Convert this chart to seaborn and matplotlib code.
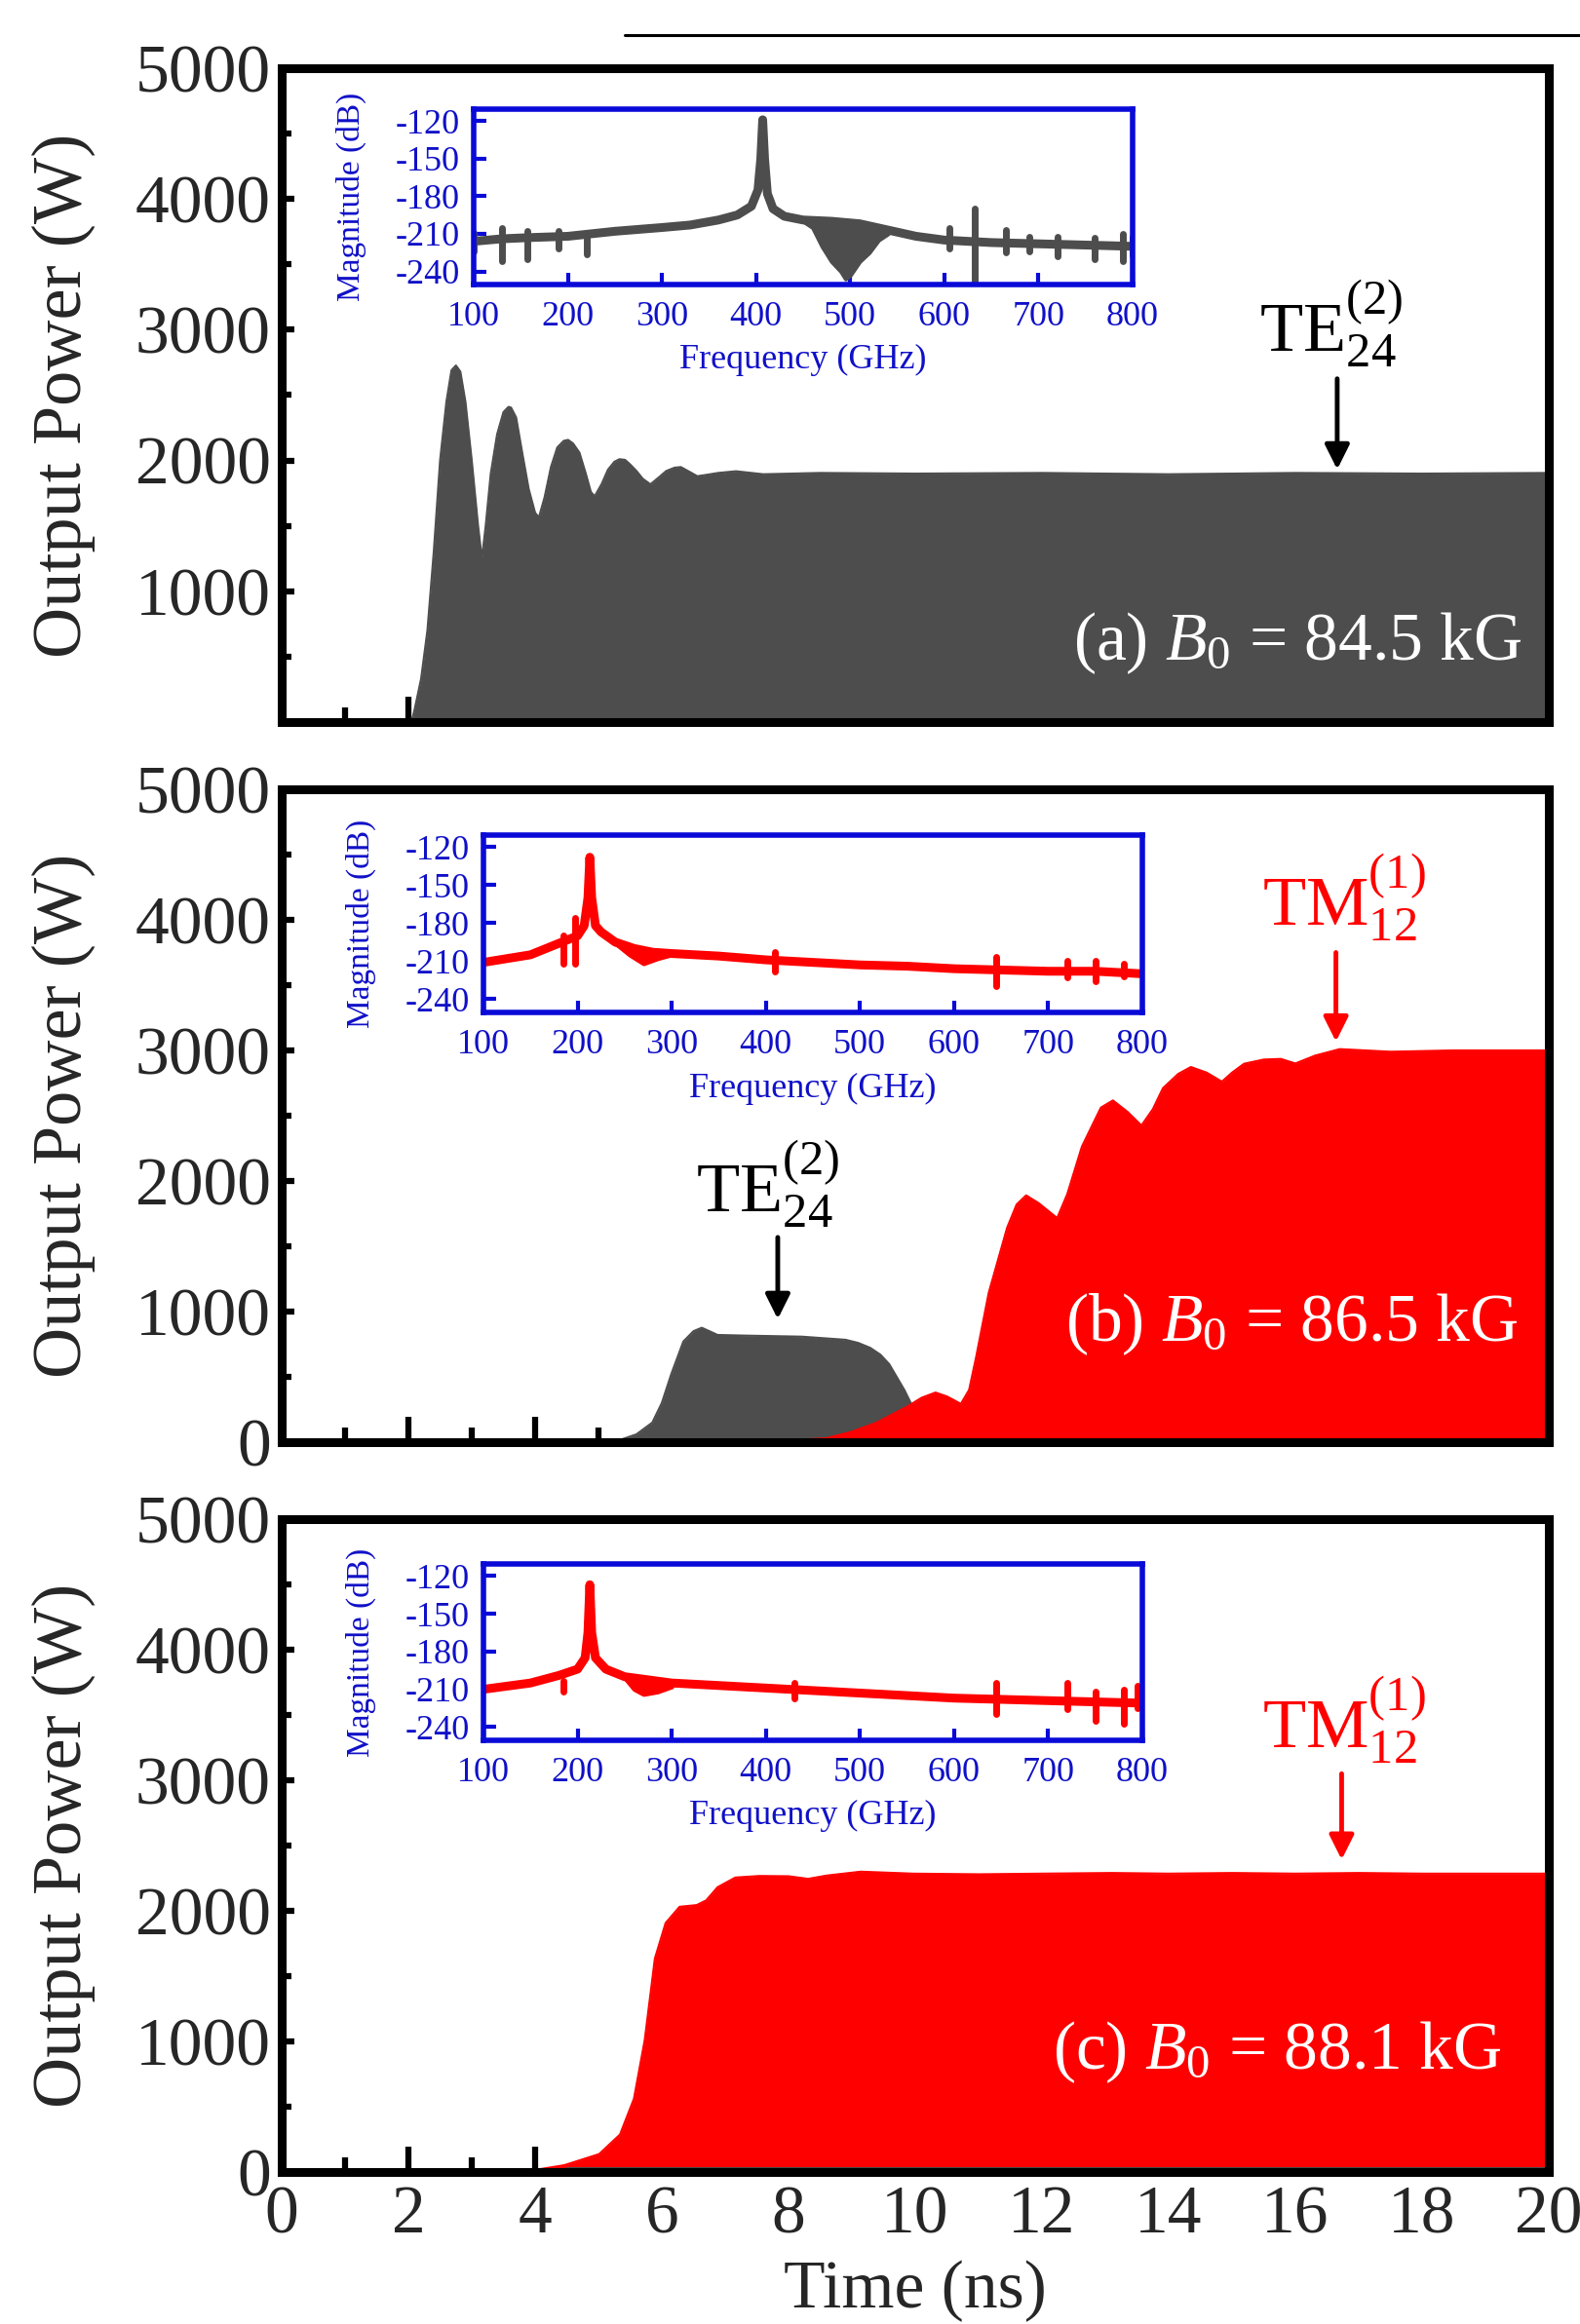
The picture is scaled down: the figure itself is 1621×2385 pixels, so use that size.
import numpy as np
import pandas as pd
import matplotlib
matplotlib.use("Agg")
import matplotlib.pyplot as plt
import seaborn as sns
from matplotlib.ticker import MultipleLocator, FixedLocator
from matplotlib.lines import Line2D

# ---------------- data ----------------
# (a) B0 = 84.5 kG, TE24(2) envelope (ns, W)
a_time = [0.0, 2.0, 2.07, 2.1, 2.2, 2.3, 2.4, 2.5, 2.6, 2.68, 2.75, 2.82, 2.9, 3.0, 3.1, 3.16,
          3.22, 3.3, 3.4, 3.5, 3.58, 3.62, 3.7, 3.8, 3.9, 4.0, 4.06, 4.15, 4.25, 4.35, 4.45, 4.52,
          4.6, 4.7, 4.8, 4.88, 4.94, 5.05, 5.15, 5.25, 5.33, 5.42, 5.5, 5.6, 5.7, 5.82, 5.95, 6.07,
          6.2, 6.3, 6.45, 6.56, 6.7, 6.89, 7.17, 7.6, 8.5, 10.0, 12.0, 14.0, 16.0, 18.0, 20.0]
a_power = [0, 0, 40, 100, 330, 700, 1300, 2000, 2450, 2690, 2727, 2680, 2450, 2000, 1500, 1250,
           1500, 1900, 2200, 2370, 2410, 2405, 2330, 2050, 1780, 1600, 1565, 1720, 1950, 2100, 2150, 2158,
           2130, 2060, 1900, 1760, 1726, 1820, 1930, 1990, 2010, 2005, 1970, 1920, 1860, 1818, 1870, 1920,
           1945, 1950, 1910, 1880, 1890, 1905, 1918, 1895, 1905, 1900, 1905, 1895, 1905, 1900, 1905]

# (b) B0 = 86.5 kG
b_gray_time = [5.0, 5.36, 5.6, 5.85, 6.0, 6.15, 6.34, 6.5, 6.63, 6.75, 6.88, 7.32, 8.21,
               8.9, 9.1, 9.29, 9.45, 9.59, 9.83, 9.98, 10.15, 10.3]
b_gray_power = [0, 20, 60, 150, 300, 522, 771, 850, 876, 850, 821, 816, 808,
                784, 760, 722, 670, 597, 398, 249, 100, 0]
b_red_time = [7.5, 8.6, 9.0, 9.39, 9.88, 10.1, 10.32, 10.5, 10.72, 10.85, 10.96, 11.16, 11.45,
              11.6, 11.75, 11.95, 12.24, 12.4, 12.63, 12.93, 13.12, 13.35, 13.57, 13.75, 13.91,
              14.15, 14.35, 14.6, 14.84, 15.0, 15.19, 15.5, 15.77, 16.0, 16.31, 16.7, 17.5,
              18.5, 20.0]
b_red_power = [0, 30, 80, 150, 274, 340, 380, 350, 293, 400, 649, 1144, 1642,
               1820, 1890, 1830, 1716, 1900, 2263, 2562, 2617, 2530, 2425, 2550, 2711,
               2820, 2873, 2830, 2761, 2830, 2898, 2930, 2935, 2900, 2960, 3010, 2990,
               3000, 3000]

# (c) B0 = 88.1 kG
c_red_time = [3.8, 4.46, 5.01, 5.34, 5.56, 5.73, 5.89, 6.06, 6.28, 6.55, 6.7, 6.88, 7.16,
              7.54, 8.0, 8.31, 8.6, 9.14, 9.96, 11.0, 12.0, 13.1, 14.0, 15.0, 16.0, 17.0,
              18.0, 19.0, 20.0]
c_red_power = [0, 52, 137, 287, 561, 1010, 1634, 1907, 2031, 2044, 2080, 2181, 2255,
               2267, 2265, 2245, 2270, 2300, 2285, 2280, 2285, 2290, 2285, 2290, 2285, 2290,
               2285, 2285, 2285]
c_gray_time = [4.5, 20.0]
c_gray_power = [30, 30]

# insets: spectra (GHz, dB)
sa_freq = [100, 130, 160, 200, 250, 300, 330, 360, 380, 395, 402, 405, 407, 409, 412, 418,
           430, 450, 480, 510, 540, 570, 600, 650, 700, 750, 800]
sa_db = [-216, -214, -213, -212, -208, -205, -203, -199, -195, -188, -175, -150, -119, -150,
         -178, -190, -196, -199, -200, -202, -207, -212, -215, -217, -218, -219, -220]
sa_band_freq = [450, 460, 470, 480, 490, 495, 500, 510, 520, 530, 540]
sa_band_top = [-199, -199, -199, -200, -200, -201, -201, -202, -203, -205, -207]
sa_band_bot = [-200, -205, -220, -232, -240, -246, -243, -232, -225, -215, -210]
sa_spk_f = [100, 130, 157, 190, 220, 605, 632, 665, 690, 720, 760, 790, 800]
sa_spk_hi = [-209, -205, -208, -208, -210, -205, -190, -207, -212, -212, -213, -210, -212]
sa_spk_lo = [-224, -232, -230, -222, -226, -222, -249, -225, -224, -228, -230, -232, -227]

sb_freq = [100, 150, 180, 190, 200, 207, 211, 213, 215, 219, 225, 240, 260, 280, 300, 350,
           400, 450, 500, 550, 600, 650, 700, 750, 800]
sb_db = [-211, -205, -196, -193, -190, -182, -160, -128, -160, -182, -187, -195, -200, -203,
         -204, -206, -209, -211, -213, -214, -216, -217, -218, -218, -220]
sb_band_freq = [240, 255, 270, 285, 300]
sb_band_top = [-195, -199, -202, -203, -204]
sb_band_bot = [-196, -205, -212, -208, -205]
sb_spk_f = [185, 197, 410, 645, 720, 750, 780]
sb_spk_hi = [-190, -176, -203, -207, -210, -210, -212]
sb_spk_lo = [-212, -212, -218, -230, -223, -226, -222]

sc_freq = [100, 150, 180, 200, 208, 211, 213, 215, 219, 230, 250, 300, 350, 400, 450, 500,
           550, 600, 650, 700, 800]
sc_db = [-210, -205, -199, -194, -185, -165, -127, -165, -185, -194, -200, -205, -207, -209,
         -211, -213, -215, -217, -218, -219, -221]
sc_band_freq = [250, 260, 270, 285, 300]
sc_band_top = [-200, -201, -202, -204, -205]
sc_band_bot = [-201, -210, -214, -212, -208]
sc_spk_f = [185, 430, 645, 720, 750, 780, 795]
sc_spk_hi = [-203, -205, -205, -205, -212, -210, -207]
sc_spk_lo = [-212, -217, -230, -226, -235, -237, -225]

# ---------------- style ----------------
sns.set_theme(style="ticks")
plt.rcParams['font.family'] = ['Liberation Serif', 'DejaVu Serif']
plt.rcParams['mathtext.fontset'] = 'custom'
plt.rcParams['mathtext.rm'] = 'Liberation Serif'
plt.rcParams['mathtext.it'] = 'Liberation Serif:italic'
plt.rcParams['mathtext.bf'] = 'Liberation Serif:bold'
plt.rcParams['axes.unicode_minus'] = False

GRAY = '#4d4d4d'
RED = '#ff0000'
BLUE = '#1010c8'
SPINE_BLUE = '#0a0ad8'

W, H = 1621, 2385
fig = plt.figure(figsize=(W / 100, H / 100), dpi=100)


def fr(x0, y0, x1, y1):
    return [x0 / W, 1 - y1 / H, (x1 - x0) / W, (y1 - y0) / H]


main_boxes = [fr(289, 70, 1589, 741), fr(289, 810, 1589, 1480), fr(289, 1559, 1589, 2229)]
inset_boxes = [fr(486, 112, 1162, 292), fr(496, 857, 1172, 1039), fr(496, 1605, 1172, 1786)]

axes = [fig.add_axes(b) for b in main_boxes]


def env(ax, t, p, color, z):
    df = pd.DataFrame({'t': t, 'p': p})
    ax.fill_between(df['t'], 0, df['p'], color=color, lw=0, zorder=z)
    sns.lineplot(data=df, x='t', y='p', ax=ax, color=color, lw=1.5, zorder=z,
                 estimator=None, sort=False)


env(axes[0], a_time, a_power, GRAY, 1)
env(axes[1], b_gray_time, b_gray_power, GRAY, 1)
env(axes[1], b_red_time, b_red_power, RED, 1.2)
env(axes[2], c_red_time, c_red_power, RED, 1)
env(axes[2], c_gray_time, c_gray_power, GRAY, 1.2)

for i, ax in enumerate(axes):
    ax.set_xlim(0, 20)
    ax.set_ylim(0, 5000)
    ax.set_facecolor('white')
    ax.xaxis.set_major_locator(MultipleLocator(2))
    ax.xaxis.set_minor_locator(MultipleLocator(1))
    if i == 0:
        ax.yaxis.set_major_locator(FixedLocator([1000, 2000, 3000, 4000, 5000]))
    else:
        ax.yaxis.set_major_locator(MultipleLocator(1000))
    ax.yaxis.set_minor_locator(MultipleLocator(500))
    ax.tick_params(which='both', direction='in', top=False, right=False, color='black')
    ax.tick_params(axis='x', which='major', length=19, width=4.5, pad=10, labelsize=50)
    ax.tick_params(axis='x', which='minor', length=11, width=4.5)
    ax.tick_params(axis='y', which='major', length=9, width=4.5, pad=8, labelsize=50)
    ax.tick_params(axis='y', which='minor', length=7, width=4.5)
    for s in ax.spines.values():
        s.set_linewidth(6.5)
        s.set_color('black')
        s.set_visible(True)
    if i < 2:
        ax.tick_params(axis='x', labelbottom=False)
    ax.set_xlabel('')
    ax.set_ylabel('Output Power (W)', fontsize=52)
    ax.yaxis.set_label_coords(-0.172, 0.5)
    ax.yaxis.label.set_verticalalignment('center')

fig.text(939 / W, 1 - 2383 / H, 'Time (ns)', ha='center', va='bottom', fontsize=50)

# panel labels
axes[0].text(19.58, 477, r'(a) $B_0$ = 84.5 kG', color='white', fontsize=50, ha='right', va='baseline')
axes[1].text(19.51, 773, r'(b) $B_0$ = 86.5 kG', color='white', fontsize=50, ha='right', va='baseline')
axes[2].text(19.25, 790, r'(c) $B_0$ = 88.1 kG', color='white', fontsize=50, ha='right', va='baseline')

# mode labels & arrows
TE = r'$\mathregular{TE}_{24}^{(2)}$'
TM = r'$\mathregular{TM}_{12}^{(1)}$'


def mode(ax, label, color, tx, ty, x, y0, y1):
    ax.text(tx, ty, label, color=color, fontsize=52, ha='center', va='bottom')
    ax.annotate('', xy=(x, y1), xytext=(x, y0),
                arrowprops=dict(arrowstyle='-|>', color=color, lw=3.5, mutation_scale=38,
                                shrinkA=0, shrinkB=0))


mode(axes[0], TE, 'black', 16.56, 2700, 16.66, 2625, 1932)
mode(axes[1], TM, RED, 16.76, 3820, 16.64, 3750, 3068)
mode(axes[1], TE, 'black', 7.67, 1630, 7.83, 1568, 943)
mode(axes[2], TM, RED, 16.76, 3110, 16.73, 3050, 2392)

# insets
spectra = [
    (sa_freq, sa_db, sa_band_freq, sa_band_top, sa_band_bot, sa_spk_f, sa_spk_hi, sa_spk_lo, GRAY),
    (sb_freq, sb_db, sb_band_freq, sb_band_top, sb_band_bot, sb_spk_f, sb_spk_hi, sb_spk_lo, RED),
    (sc_freq, sc_db, sc_band_freq, sc_band_top, sc_band_bot, sc_spk_f, sc_spk_hi, sc_spk_lo, RED),
]
for box, (f, db, bf, bt, bb, sf, sh, sl, col) in zip(inset_boxes, spectra):
    ax = fig.add_axes(box)
    ax.set_facecolor('white')
    df = pd.DataFrame({'f': f, 'db': db})
    sns.lineplot(data=df, x='f', y='db', ax=ax, color=col, lw=6.5, estimator=None, sort=False,
                 solid_capstyle='round', solid_joinstyle='round', clip_on=True)
    ax.fill_between(bf, bb, bt, color=col, lw=3)
    ax.vlines(sf, sl, sh, color=col, lw=5, capstyle='round')
    ax.set_xlim(100, 800)
    ax.set_ylim(-250.5, -110.5)
    ax.xaxis.set_major_locator(MultipleLocator(100))
    ax.yaxis.set_major_locator(FixedLocator([-120, -150, -180, -210, -240]))
    ax.tick_params(which='both', direction='in', top=False, right=False, color=SPINE_BLUE,
                   labelcolor=BLUE, labelsize=26, width=3, length=9)
    ax.tick_params(axis='x', pad=12)
    ax.tick_params(axis='y', pad=10)
    for s in ax.spines.values():
        s.set_linewidth(4)
        s.set_color(SPINE_BLUE)
    ax.set_xlabel('Frequency (GHz)', fontsize=26, color=BLUE)
    ax.xaxis.set_label_coords(0.5, -0.43)
    ax.xaxis.label.set_verticalalignment('center')
    ax.set_ylabel('Magnitude (dB)', fontsize=24, color=BLUE)
    ax.yaxis.set_label_coords(-0.186, 0.5)
    ax.yaxis.label.set_verticalalignment('center')

# top rule
fig.add_artist(Line2D([641 / W, 1.0], [1 - 36 / H, 1 - 36 / H], color='black', lw=2.2))

fig.savefig('out.png', dpi=100, facecolor='white')
